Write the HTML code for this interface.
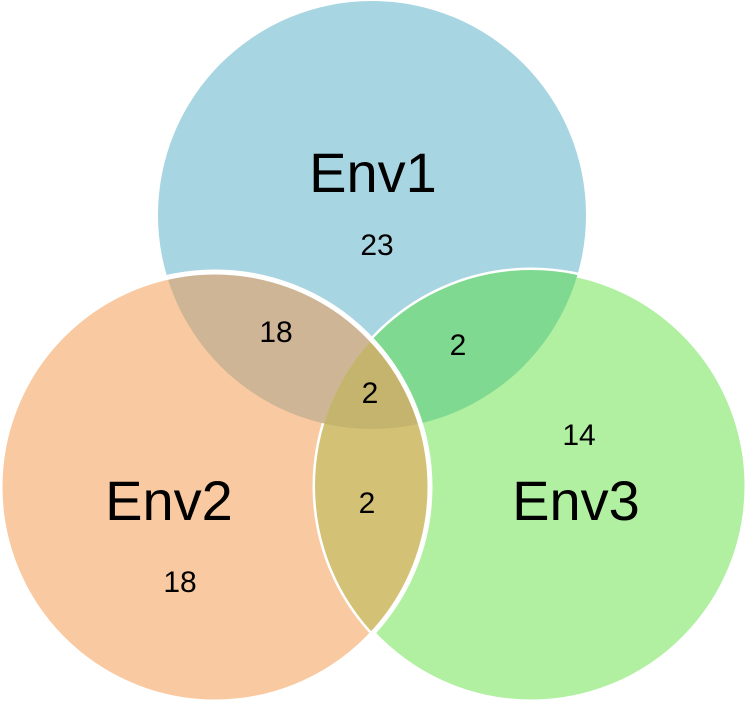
<!DOCTYPE html>
<html><head><meta charset="utf-8"><style>html,body{margin:0;padding:0;background:#fff;}svg{display:block}</style></head>
<body>
<svg width="746" height="703" viewBox="0 0 746 703" xmlns="http://www.w3.org/2000/svg" font-family="'Liberation Sans', sans-serif">
<defs>
<clipPath id="cB"><circle cx="372" cy="215" r="214"/></clipPath>
<clipPath id="cO"><circle cx="215" cy="487" r="215"/></clipPath>
<clipPath id="cG"><circle cx="531" cy="486" r="216"/></clipPath>
</defs>
<circle cx="372" cy="215" r="214" fill="#a7d5e1"/>
<circle cx="215" cy="487" r="215" fill="#f9c9a1"/>
<circle cx="531" cy="486" r="216" fill="#b0f0a0" stroke="#fff" stroke-width="5"/>
<circle cx="372" cy="215" r="214" fill="#ceb595" clip-path="url(#cO)"/>
<circle cx="372" cy="215" r="214" fill="#80d990" clip-path="url(#cG)"/>
<g clip-path="url(#cG)"><circle cx="215" cy="487" r="215" fill="#d3c275"/>
<circle cx="372" cy="215" r="214" fill="#c5b46d" clip-path="url(#cO)"/></g>
<circle cx="215" cy="487" r="215" fill="none" stroke="#fff" stroke-width="5"/>
<g fill="#000" text-anchor="middle">
<text x="373" y="192" font-size="56">Env1</text>
<text x="169" y="520" font-size="56">Env2</text>
<text x="576" y="520" font-size="56">Env3</text>
<text x="377" y="255" font-size="30">23</text>
<text x="276" y="342" font-size="30">18</text>
<text x="458" y="355" font-size="30">2</text>
<text x="370" y="403" font-size="30">2</text>
<text x="579" y="445" font-size="30">14</text>
<text x="367" y="513" font-size="30">2</text>
<text x="180" y="592" font-size="30">18</text>
</g>
</svg>
</body></html>
